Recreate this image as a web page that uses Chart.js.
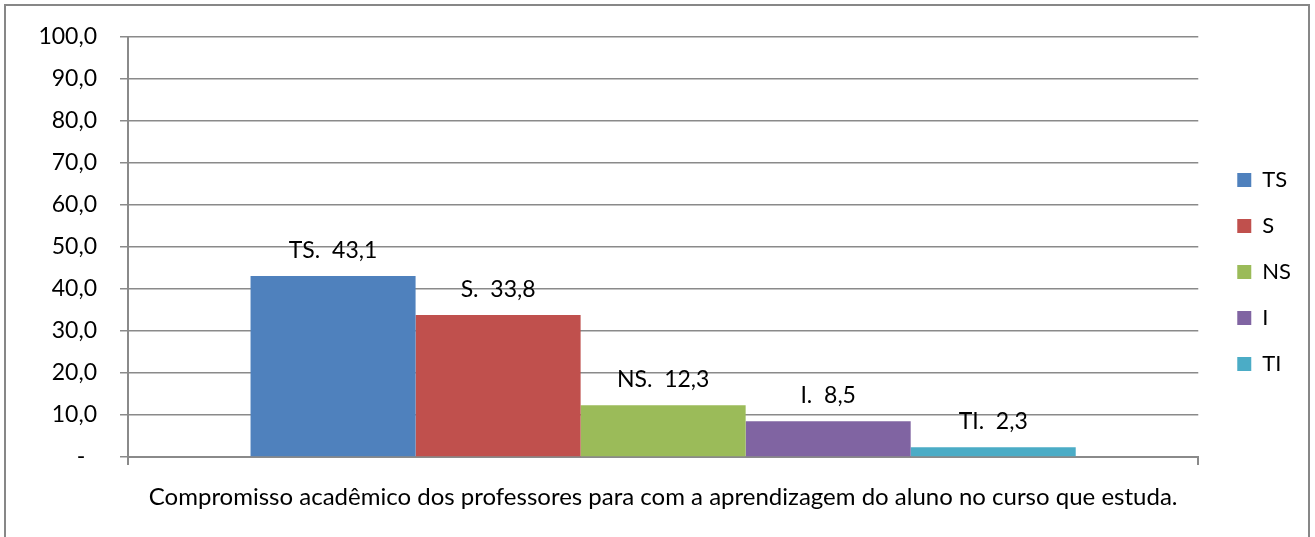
<!DOCTYPE html>
<html lang="pt">
<head>
    <meta charset="UTF-8">
    <title>Compromisso acadêmico dos professores</title>
    <script src="https://cdn.jsdelivr.net/npm/chart.js"></script>
    <style>
        html, body { margin: 0; padding: 0; background: #fff; }
        canvas { display: block; }
    </style>
</head>
<body>
    <canvas id="grafico" width="1315" height="537"></canvas>

    <script>
        // Dados do gráfico
        const categorias = ['Compromisso acadêmico dos professores para com a aprendizagem do aluno no curso que estuda.'];
        const series = ['TS', 'S', 'NS', 'I', 'TI'];
        const valores = [43.1, 33.8, 12.3, 8.5, 2.3];
        const cores = ['#4F81BD', '#C0504D', '#9BBB59', '#8064A2', '#4BACC6'];
        const yMin = 0;
        const yMax = 100;
        const yPasso = 10;

        const cinza = '#8a8a8a';
        const fonte = 'Lato, "Noto Sans", sans-serif';

        // formato "43,1" ; zero vira "-"
        function formatar(v) {
            if (v === 0) return '-  ';
            return v.toFixed(1).replace('.', ',');
        }

        // rótulos de dados acima das barras ("TS.  43,1")
        const rotulosPlugin = {
            id: 'rotulos',
            afterDatasetsDraw(chart) {
                const ctx = chart.ctx;
                ctx.save();
                ctx.font = '23px ' + fonte;
                ctx.fillStyle = '#000';
                ctx.textAlign = 'center';
                ctx.textBaseline = 'alphabetic';
                chart.data.datasets.forEach((ds, i) => {
                    const meta = chart.getDatasetMeta(i);
                    meta.data.forEach((el, j) => {
                        const txt = ds.label + '.  ' + formatar(ds.data[j]);
                        ctx.fillText(txt, el.x, el.y - 18);
                    });
                });
                ctx.restore();
            }
        };

        // moldura externa do gráfico
        const molduraPlugin = {
            id: 'moldura',
            afterDraw(chart) {
                const ctx = chart.ctx;
                ctx.save();
                ctx.strokeStyle = '#878787';
                ctx.lineWidth = 2;
                ctx.strokeRect(5, 5, 1304, 560);
                ctx.restore();
            }
        };

        Chart.defaults.font.family = fonte;
        Chart.defaults.font.size = 23;
        Chart.defaults.color = '#000';

        const ctx = document.getElementById('grafico').getContext('2d');
        new Chart(ctx, {
            type: 'bar',
            data: {
                labels: categorias,
                datasets: series.map((nome, i) => ({
                    label: nome,
                    data: [valores[i]],
                    backgroundColor: cores[i],
                    borderWidth: 0,
                    categoryPercentage: 0.771,
                    barPercentage: 1
                }))
            },
            options: {
                responsive: false,
                animation: false,
                layout: {
                    padding: { top: 32, left: 10, right: 14, bottom: 25 }
                },
                plugins: {
                    tooltip: { enabled: false },
                    legend: {
                        position: 'right',
                        labels: {
                            boxWidth: 14,
                            boxHeight: 14,
                            padding: 24,
                            font: { size: 22 }
                        }
                    }
                },
                scales: {
                    x: {
                        offset: true,
                        grid: {
                            display: true,
                            offset: true,
                            drawOnChartArea: false,
                            drawTicks: true,
                            tickLength: 8,
                            color: cinza,
                            lineWidth: 2
                        },
                        border: { display: true, color: cinza, width: 2 },
                        ticks: { padding: 18, maxRotation: 0, font: { size: 24 } },
                        afterFit(s) { s.height = 55; }
                    },
                    y: {
                        min: yMin,
                        max: yMax,
                        ticks: {
                            stepSize: yPasso,
                            padding: 23,
                            font: { size: 23 },
                            callback: (v) => formatar(v)
                        },
                        grid: {
                            color: cinza,
                            lineWidth: 1.5,
                            tickLength: 8
                        },
                        border: { display: true, color: cinza, width: 2 },
                        afterFit(s) { s.width = 118; }
                    },
                    // eixo vazio só para afastar a legenda da área do gráfico
                    yVazio: {
                        type: 'linear',
                        position: 'right',
                        display: true,
                        grid: { display: false },
                        border: { display: false },
                        ticks: { display: false },
                        afterFit(s) { s.width = 15; }
                    }
                }
            },
            plugins: [rotulosPlugin, molduraPlugin]
        });
    </script>
</body>
</html>
